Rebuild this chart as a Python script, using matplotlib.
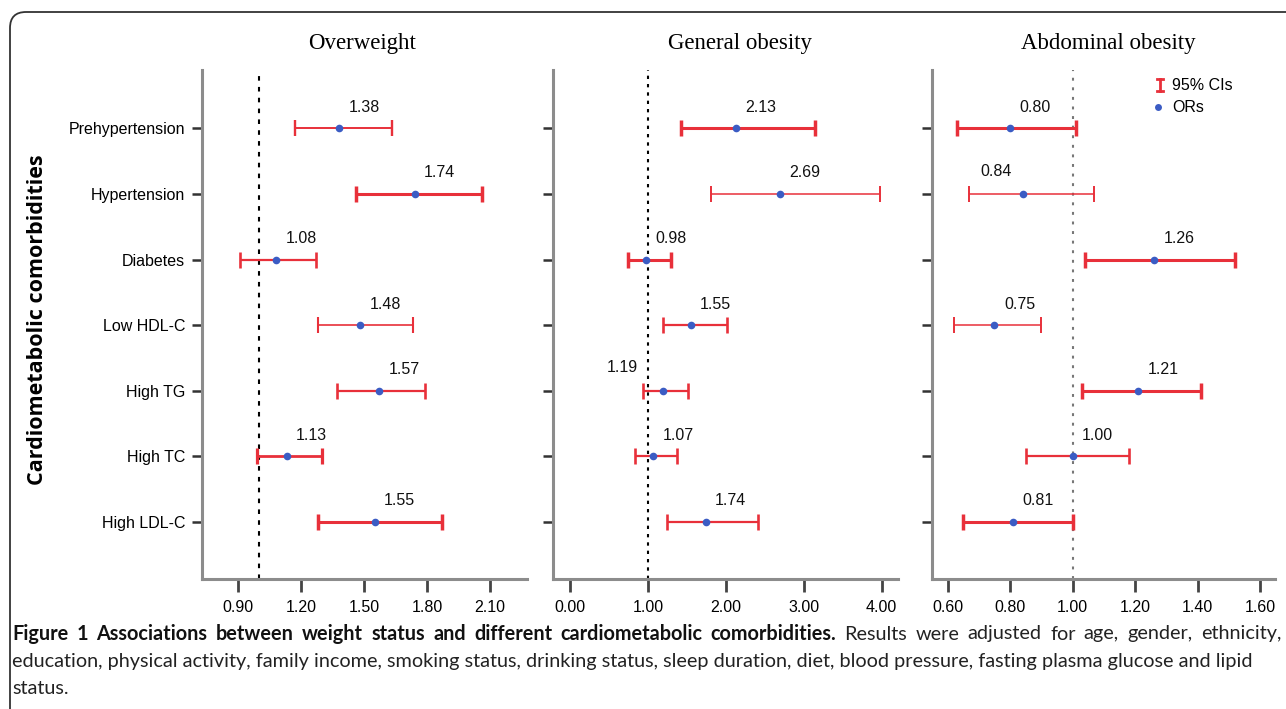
import matplotlib
matplotlib.use('Agg')
import matplotlib.pyplot as plt
from matplotlib.lines import Line2D
from matplotlib.patches import FancyBboxPatch
from matplotlib.transforms import IdentityTransform

W, H = 1286, 709

categories = ['Prehypertension', 'Hypertension', 'Diabetes', 'Low HDL-C',
              'High TG', 'High TC', 'High LDL-C']
panel_titles = ['Overweight', 'General obesity', 'Abdominal obesity']

# odds ratios and 95% CI bounds
or_overweight = [1.38, 1.74, 1.08, 1.48, 1.57, 1.13, 1.55]
lo_overweight = [1.17, 1.46, 0.91, 1.28, 1.37, 0.99, 1.28]
hi_overweight = [1.63, 2.06, 1.27, 1.73, 1.79, 1.30, 1.87]

or_general = [2.13, 2.69, 0.98, 1.55, 1.19, 1.07, 1.74]
lo_general = [1.43, 1.81, 0.74, 1.20, 0.94, 0.83, 1.25]
hi_general = [3.15, 3.98, 1.30, 2.02, 1.51, 1.37, 2.41]

or_abdominal = [0.80, 0.84, 1.26, 0.75, 1.21, 1.00, 0.81]
lo_abdominal = [0.63, 0.67, 1.04, 0.62, 1.03, 0.85, 0.65]
hi_abdominal = [1.01, 1.07, 1.52, 0.90, 1.41, 1.18, 1.00]

xticks_overweight = [0.90, 1.20, 1.50, 1.80, 2.10]
xticks_general = [0.00, 1.00, 2.00, 3.00, 4.00]
xticks_abdominal = [0.60, 0.80, 1.00, 1.20, 1.40, 1.60]

caption_bold = 'Figure 1 Associations between weight status and different cardiometabolic comorbidities.'
caption_rest = ['Results were adjusted for age, gender, ethnicity,',
                'education, physical activity, family income, smoking status, drinking status, sleep duration, diet, blood pressure, fasting plasma glucose and lipid',
                'status.']

# style bits (not data)
RED = '#e8303a'
BLUE = '#3b5cc4'
SPINE = '#8c8c8c'
SANS = ['Liberation Sans', 'DejaVu Sans']
CAP_FONT = ['Lato', 'DejaVu Sans']
ci_lw = [[1.4, 2.2, 1.6, 1.2, 1.6, 2.0, 2.2],
         [2.2, 1.1, 2.2, 1.6, 1.6, 1.6, 1.6],
         [2.2, 1.1, 2.2, 1.1, 2.2, 1.6, 2.2]]
# label offsets in pixels (dx, dy) where the label is not to the upper right
label_shift = {(1, 4): (-40, 23), (2, 1): (-27, 22)}
dot_style = [('k', (0, (2.2, 3.0))), ('k', (0, (1.6, 2.4))), ('#777777', (0, (1.4, 3.2)))]

def fx(px):
    return px / W

def fy(py):
    return 1 - py / H

fig = plt.figure(figsize=(W / 100, H / 100), dpi=100)
fig.patch.set_facecolor('white')

# rounded frame around the figure
frame = FancyBboxPatch((10, -40), 1320, H - 12 + 40,
                       boxstyle='round,pad=0,rounding_size=16',
                       transform=IdentityTransform(), fill=False,
                       edgecolor='#333333', linewidth=1.3)
fig.patches.append(frame)

boxes = [(201.7, 527, 0.726, 2.275), (553.3, 898, -0.214, 4.21), (931.7, 1275, 0.549, 1.648)]
top, bottom = 70, 579.3
ors = [or_overweight, or_general, or_abdominal]
los = [lo_overweight, lo_general, lo_abdominal]
his = [hi_overweight, hi_general, hi_abdominal]
xticks = [xticks_overweight, xticks_general, xticks_abdominal]
title_x = [362, 740, 1108]

axes = []
for p in range(3):
    l, r, x0, x1 = boxes[p]
    ax = fig.add_axes([fx(l), fy(bottom), (r - l) / W, (bottom - top) / H])
    axes.append(ax)
    ax.set_xlim(x0, x1)
    ax.set_ylim(6.875, -0.889)
    col, ls = dot_style[p]
    ax.axvline(1.0, color=col, linestyle=ls, linewidth=1.5, zorder=1)
    for i in range(len(categories)):
        o, lo, hi = ors[p][i], los[p][i], his[p][i]
        lw = ci_lw[p][i]
        ax.errorbar([o], [i], xerr=[[o - lo], [hi - o]], fmt='none', ecolor=RED,
                    elinewidth=lw, capsize=6, capthick=lw + 0.3, zorder=2)
        ax.plot([o], [i], 'o', color=BLUE, markersize=5.5, markeredgewidth=0, zorder=3)
        dx, dy = label_shift.get((p, i), (25, 21))
        ax.annotate('%.2f' % o, (o, i), xytext=(dx, dy), textcoords='offset pixels',
                    ha='center', va='center', fontsize=11.5, family=SANS, color='#111111')
    ax.set_xticks(xticks[p])
    ax.set_xticklabels(['%.2f' % t for t in xticks[p]], family=SANS, fontsize=11.5)
    ax.set_yticks(range(len(categories)))
    if p == 0:
        ax.set_yticklabels(categories, family=SANS, fontsize=11.5)
    else:
        ax.set_yticklabels([])
    ax.tick_params(axis='x', length=9, width=2, color='#444444', pad=6)
    ax.tick_params(axis='y', length=7, width=1.8, color='#333333', pad=5)
    for s in ['top', 'right']:
        ax.spines[s].set_visible(False)
    for s in ['left', 'bottom']:
        ax.spines[s].set_color(SPINE)
        ax.spines[s].set_linewidth(2.2)
    ax.set_facecolor('none')
    fig.text(fx(title_x[p]), fy(44), panel_titles[p], ha='center', va='center',
             family='Liberation Serif', fontsize=16.5)

fig.text(fx(38), fy(320), 'Cardiometabolic comorbidities', rotation=90,
         ha='center', va='center', family=['Open Sans', 'DejaVu Sans'],
         fontweight='bold', fontsize=15.5)

# legend in the third panel
fig.add_artist(Line2D([fx(1160), fx(1160)], [fy(79), fy(91)], color=RED, linewidth=2))
fig.add_artist(Line2D([fx(1157), fx(1163)], [fy(79), fy(79)], color=RED, linewidth=2))
fig.add_artist(Line2D([fx(1157), fx(1163)], [fy(91), fy(91)], color=RED, linewidth=2))
fig.add_artist(Line2D([fx(1158)], [fy(107)], marker='o', color=BLUE, markersize=5,
                      markeredgewidth=0))
fig.text(fx(1172), fy(85), '95% CIs', va='center', family=SANS, fontsize=11.5)
fig.text(fx(1172), fy(108), 'ORs', va='center', family=SANS, fontsize=11.5)

# caption: size chosen so the second line is as wide as in the original
renderer = fig.canvas.get_renderer()
probe = fig.text(0, 0, caption_rest[1], family=CAP_FONT, fontsize=12)
cap_size = 12 * 1240 / probe.get_window_extent(renderer).width
probe.remove()

# first line is justified between x=12 and x=1281
words = [(w, 'bold') for w in caption_bold.split()] + \
        [(w, 'normal') for w in caption_rest[0].split()]
pieces = []
for w, weight in words:
    tw = fig.text(0, fy(634), w, va='center', family=CAP_FONT, fontweight=weight,
                  fontsize=cap_size, color='#111111' if weight == 'bold' else '#222222')
    pieces.append((tw, tw.get_window_extent(renderer).width))
gap = (1281 - 12 - sum(wd for _, wd in pieces)) / (len(pieces) - 1)
xpos = 12
for tw, wd in pieces:
    tw.set_x(xpos / W)
    xpos += wd + gap

fig.text(fx(12), fy(662), caption_rest[1], va='center', family=CAP_FONT,
         fontsize=cap_size, color='#222222')
fig.text(fx(12), fy(689), caption_rest[2], va='center', family=CAP_FONT,
         fontsize=cap_size, color='#222222')

fig.savefig('out.png', dpi=100)
